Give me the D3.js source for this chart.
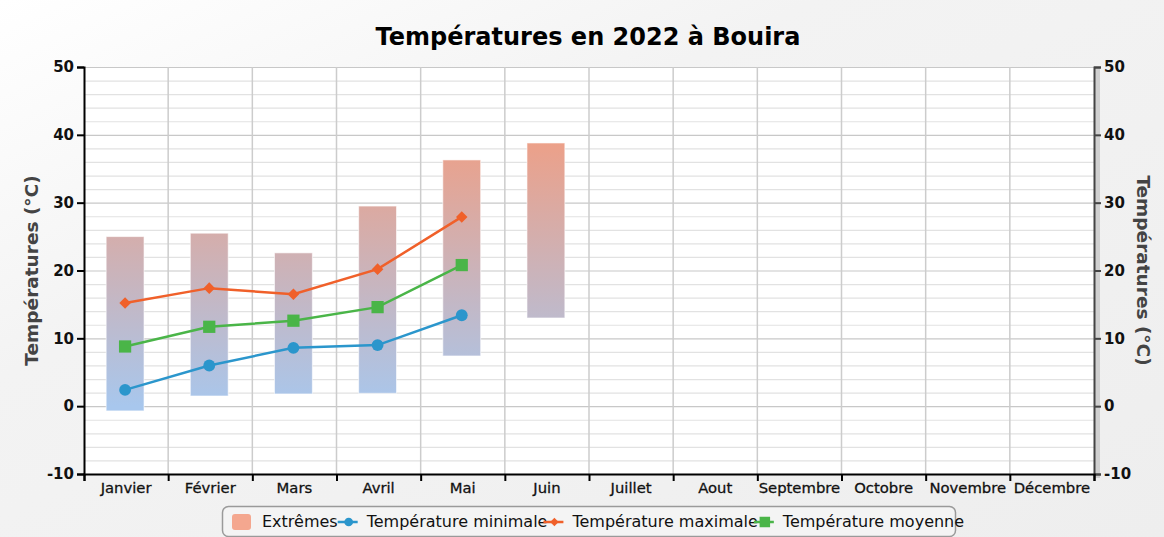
<!DOCTYPE html>
<html>
<head>
<meta charset="utf-8">
<script src="https://cdn.jsdelivr.net/npm/d3@7"></script>
<style>
  body { margin: 0; background: #f0f0f0; }
  svg { display: block; font-family: "DejaVu Sans", sans-serif; }
</style>
</head>
<body>
<svg width="1164" height="537"></svg>
<script>
  // chart data
  var months = ["Janvier", "Février", "Mars", "Avril", "Mai", "Juin", "Juillet",
                "Aout", "Septembre", "Octobre", "Novembre", "Décembre"];
  var extremeHigh = [25.0, 25.5, 22.6, 29.5, 36.3, 38.8];
  var extremeLow = [-0.7, 1.5, 1.8, 1.9, 7.4, 13.0];
  var tempMin = [2.4, 6.0, 8.6, 9.0, 13.4];
  var tempMax = [15.2, 17.4, 16.5, 20.2, 27.9];
  var tempMean = [8.8, 11.7, 12.6, 14.6, 20.8];
  var yTicks = [-10, 0, 10, 20, 30, 40, 50];

(function() {
  var width = 1164,
      height = 537,
      pLeft = 84, pRight = 1094, pTop = 67, pBottom = 474;

  var svg = d3.select('svg');

  var defs = svg.append('defs');
  var bg = defs.append('linearGradient')
    .attr('id', 'bg')
    .attr('x1', 0).attr('y1', 0).attr('x2', 1).attr('y2', 1);
  bg.append('stop').attr('offset', 0).attr('stop-color', '#ffffff');
  bg.append('stop').attr('offset', 0.35).attr('stop-color', '#f3f3f3');
  bg.append('stop').attr('offset', 1).attr('stop-color', '#eeeeee');

  var x = d3.scaleBand()
    .domain(months)
    .range([pLeft, pRight]);
  var y = d3.scaleLinear()
    .domain([-10, 50])
    .range([pBottom, pTop]);
  var xEdge = d3.scaleLinear()
    .domain([0, months.length])
    .range([pLeft, pRight]);

  // bar colour goes from salmon (hot) to blue (cold) over the whole plot
  var barGrad = defs.append('linearGradient')
    .attr('id', 'barGrad')
    .attr('gradientUnits', 'userSpaceOnUse')
    .attr('x1', 0).attr('x2', 0)
    .attr('y1', y(40)).attr('y2', y(0));
  barGrad.append('stop').attr('offset', 0).attr('stop-color', '#ee9f86');
  barGrad.append('stop').attr('offset', 1).attr('stop-color', '#a8c7ed');

  svg.append('rect')
    .attr('width', width).attr('height', height)
    .attr('fill', 'url(#bg)');

  // plot area
  svg.append('rect')
    .attr('x', pLeft).attr('y', pTop)
    .attr('width', pRight - pLeft).attr('height', pBottom - pTop)
    .attr('fill', '#ffffff');

  // right side shadow
  svg.append('rect')
    .attr('x', pRight + 1).attr('y', pTop)
    .attr('width', 5).attr('height', pBottom - pTop + 4)
    .attr('fill', '#d0d0d0');

  // grid
  var grid = svg.append('g');
  grid.selectAll('line.minor')
    .data(d3.range(-10, 51, 2))
    .enter().append('line')
      .attr('x1', pLeft).attr('x2', pRight)
      .attr('y1', function(d) { return y(d) + 0.5; })
      .attr('y2', function(d) { return y(d) + 0.5; })
      .attr('stroke', function(d) { return d % 10 === 0 ? '#c8c8c8' : '#e2e2e2'; })
      .attr('stroke-width', 1.2);
  grid.selectAll('line.vert')
    .data(d3.range(1, months.length))
    .enter().append('line')
      .attr('x1', function(d) { return xEdge(d); })
      .attr('x2', function(d) { return xEdge(d); })
      .attr('y1', pTop).attr('y2', pBottom)
      .attr('stroke', '#cccccc')
      .attr('stroke-width', 1.5);

  // extremes bars
  var barW = x.bandwidth() * 0.45;
  svg.append('g').selectAll('rect')
    .data(extremeHigh)
    .enter().append('rect')
      .attr('x', function(d, i) { return x(months[i]) + x.bandwidth() / 2 - barW / 2 - 1; })
      .attr('y', function(d) { return y(d); })
      .attr('width', barW)
      .attr('height', function(d, i) { return y(extremeLow[i]) - y(d); })
      .attr('fill', 'url(#barGrad)')
      .attr('stroke', '#ffffff')
      .attr('stroke-opacity', 0.6)
      .attr('stroke-width', 1);

  function cx(i) { return x(months[i]) + x.bandwidth() / 2 - 1; }

  var line = d3.line()
    .x(function(d, i) { return cx(i); })
    .y(function(d) { return y(d); });

  var series = [
    { name: 'Température minimale', values: tempMin, color: '#2b96cc', symbol: d3.symbolCircle, size: 110, lsize: 60 },
    { name: 'Température maximale', values: tempMax, color: '#f0602a', symbol: d3.symbolDiamond2, size: 85, lsize: 45 },
    { name: 'Température moyenne', values: tempMean, color: '#4ab548', symbol: d3.symbolSquare, size: 150, lsize: 110 }
  ];

  series.forEach(function(s) {
    var g = svg.append('g');
    g.append('path')
      .attr('d', line(s.values))
      .attr('fill', 'none')
      .attr('stroke', s.color)
      .attr('stroke-width', 2.5);
    g.selectAll('path.pt')
      .data(s.values)
      .enter().append('path')
        .attr('transform', function(d, i) { return 'translate(' + cx(i) + ',' + y(d) + ')'; })
        .attr('d', d3.symbol().type(s.symbol).size(s.size))
        .attr('fill', s.color);
  });

  // axes
  var fmt = function(d) { return String(d); };
  var leftAxis = svg.append('g')
    .attr('transform', 'translate(' + pLeft + ',0)')
    .call(d3.axisLeft(y).tickValues(yTicks).tickFormat(fmt).tickSize(7).tickPadding(3));
  var rightAxis = svg.append('g')
    .attr('transform', 'translate(' + pRight + ',0)')
    .call(d3.axisRight(y).tickValues(yTicks).tickFormat(fmt).tickSize(7).tickPadding(3));
  [leftAxis, rightAxis].forEach(function(a) {
    a.selectAll('text')
      .attr('font-size', 15)
      .attr('font-weight', 'bold')
      .attr('font-family', '"DejaVu Sans", sans-serif')
      .attr('fill', '#111');
  });
  leftAxis.selectAll('path, line').attr('stroke', '#000').attr('stroke-width', 2);
  rightAxis.selectAll('path, line').attr('stroke', '#444').attr('stroke-width', 2);

  var bottomAxis = svg.append('g')
    .attr('transform', 'translate(0,' + pBottom + ')')
    .call(d3.axisBottom(xEdge).tickValues(d3.range(months.length + 1)).tickFormat('').tickSize(7));
  bottomAxis.selectAll('path, line').attr('stroke', '#000').attr('stroke-width', 2);

  svg.append('g').selectAll('text')
    .data(months)
    .enter().append('text')
      .attr('x', function(d) { return x(d) + x.bandwidth() / 2; })
      .attr('y', pBottom + 19)
      .attr('text-anchor', 'middle')
      .attr('font-size', 14.8)
      .attr('fill', '#111')
      .attr('stroke', '#111')
      .attr('stroke-width', 0.3)
      .text(function(d) { return d; });

  // titles
  svg.append('text')
    .attr('x', 588).attr('y', 45)
    .attr('text-anchor', 'middle')
    .attr('font-size', 24)
    .attr('font-weight', 'bold')
    .attr('fill', '#000')
    .text('Températures en 2022 à Bouira');

  svg.append('text')
    .attr('transform', 'translate(38,' + (pTop + pBottom) / 2 + ') rotate(-90)')
    .attr('text-anchor', 'middle')
    .attr('font-size', 18.5)
    .attr('font-weight', 'bold')
    .attr('fill', '#444')
    .text('Températures (°C)');
  svg.append('text')
    .attr('transform', 'translate(1137,' + (pTop + pBottom) / 2 + ') rotate(90)')
    .attr('text-anchor', 'middle')
    .attr('font-size', 18.5)
    .attr('font-weight', 'bold')
    .attr('fill', '#444')
    .text('Températures (°C)');

  // legend
  var legend = svg.append('g');
  legend.append('rect')
    .attr('x', 222.5).attr('y', 506.5)
    .attr('width', 733).attr('height', 30)
    .attr('rx', 6)
    .attr('fill', '#f4f4f4')
    .attr('stroke', '#9a9a9a')
    .attr('stroke-width', 1.5);
  var ly = 522;
  legend.append('rect')
    .attr('x', 232).attr('y', ly - 8)
    .attr('width', 19).attr('height', 16)
    .attr('rx', 3)
    .attr('fill', '#f4a78f');
  var t = legend.append('text')
    .attr('x', 262).attr('y', ly + 5)
    .attr('font-size', 16)
    .attr('fill', '#111')
    .text('Extrêmes');
  var cursor = 262 + t.node().getComputedTextLength();

  series.forEach(function(s) {
    var sx = cursor;
    legend.append('line')
      .attr('x1', sx).attr('x2', sx + 20)
      .attr('y1', ly).attr('y2', ly)
      .attr('stroke', s.color)
      .attr('stroke-width', 2.5);
    legend.append('path')
      .attr('transform', 'translate(' + (sx + 11) + ',' + ly + ')')
      .attr('d', d3.symbol().type(s.symbol).size(s.lsize))
      .attr('fill', s.color);
    var tt = legend.append('text')
      .attr('x', sx + 29).attr('y', ly + 5)
      .attr('font-size', 16)
      .attr('fill', '#111')
      .text(s.name);
    cursor = sx + 29 + tt.node().getComputedTextLength() - 4;
  });
})();
</script>
</body>
</html>
